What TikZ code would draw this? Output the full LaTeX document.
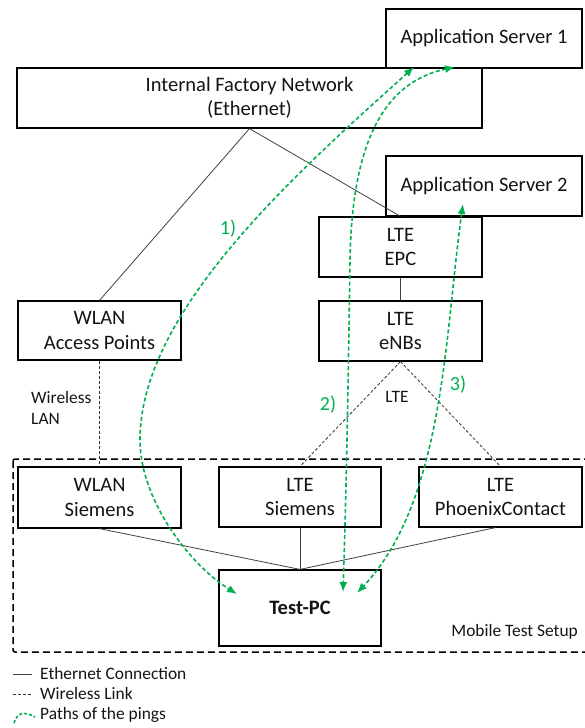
\documentclass[tikz,border=0pt]{standalone}
\usepackage{fontspec}
\setmainfont{Carlito}
\usetikzlibrary{arrows.meta,calc}
\definecolor{pinggreen}{RGB}{0,176,80}
\definecolor{txt}{RGB}{20,20,20}
\begin{document}
\begin{tikzpicture}[x=1pt,y=-1pt,
  box/.style={draw=black,line width=1.2pt,fill=white,inner sep=0pt,align=center,text=txt,
    font=\fontsize{20.5}{24.5}\selectfont},
  conn/.style={draw=black!75,line width=0.8pt},
  wless/.style={draw=black!80,line width=0.8pt,dash pattern=on 3pt off 2pt},
  ping/.style={draw=pinggreen,line width=1.6pt,dash pattern=on 4pt off 2.5pt,
    {Latex[length=10pt,width=8pt]}-{Latex[length=10pt,width=8pt]}},
  small/.style={text=txt,font=\fontsize{17.4}{21}\selectfont,inner sep=0pt},
  plabel/.style={text=pinggreen,font=\fontsize{20}{22}\selectfont,inner sep=0pt}]
\useasboundingbox (0,0) rectangle (584,728);

% mobile test setup frame
\draw[line width=1.5pt,dash pattern=on 7pt off 4pt,rounded corners=2pt] (13,459) rectangle (590,652);
\node[small,anchor=east] (mts) at (578,632) {Mobile Test Setup};

% boxes
\node[box,minimum width=196pt,minimum height=59pt] (as1) at (484,38.5) {Application Server 1};
\node[box,minimum width=465pt,minimum height=60pt] (ifn) at (249.5,98) {Internal Factory Network\\(Ethernet)};
\node[box,minimum width=196pt,minimum height=60pt] (as2) at (484,186) {Application Server 2};
\node[box,minimum width=163pt,minimum height=60pt] (epc) at (400.5,247) {LTE\\EPC};
\node[box,minimum width=163pt,minimum height=60pt] (enb) at (400.5,331) {LTE\\eNBs};
\node[box,minimum width=163pt,minimum height=59pt] (wap) at (99.5,330.5) {WLAN\\Access Points};
\node[box,minimum width=163pt,minimum height=61pt] (wsi) at (99.5,497.5) {WLAN\\Siemens};
\node[box,minimum width=162pt,minimum height=60pt] (lsi) at (300,497) {LTE\\Siemens};
\node[box,minimum width=163pt,minimum height=60pt] (lpc) at (500.5,497) {LTE\\PhoenixContact};
\node[box,minimum width=162pt,minimum height=76pt,font=\fontsize{20.5}{24.5}\selectfont\bfseries] (tpc) at (300,608) {Test-PC};

% ethernet connections
\draw[conn] (ifn.south) -- (wap.north);
\draw[conn] (ifn.south) -- (epc.north);
\draw[conn] (epc.south) -- (enb.north);
\draw[conn] (wsi.south) -- (tpc.north);
\draw[conn] (lsi.south) -- (tpc.north);
\draw[conn] ($(lpc.south)+(-5,0)$) -- (tpc.north);

% wireless links
\draw[wless] (wap.south) -- (wsi.north);
\draw[wless] (enb.south) -- (lsi.north);
\draw[wless] (enb.south) -- (lpc.north);

% labels
\node[small,anchor=north west,align=left] (wl) at (31,391) {Wireless\\LAN};
\node[small] (ltel) at (397,397) {LTE};
\node[plabel] (l1) at (228,229) {1)};
\node[plabel] (l2) at (328,405) {2)};
\node[plabel] (l3) at (458,385) {3)};

% ping paths
\coordinate (p1a) at (414,67);
\coordinate (p1b) at (237,594);
\coordinate (p2a) at (455,67);
\coordinate (p2b) at (343,592);
\coordinate (p3a) at (463,204);
\coordinate (p3b) at (357,593);
\draw[ping] (p1a) .. controls (300,170) and (140,310) .. (140,440) .. controls (140,500) and (190,565) .. (p1b);
\draw[ping] (p2a) .. controls (385,82) and (352,140) .. (350,260) .. controls (348,400) and (346,500) .. (p2b);
\draw[ping] (p3a) .. controls (445,330) and (445,500) .. (p3b);

% legend
\coordinate (e1) at (13,674); \coordinate (e2) at (32,674);
\coordinate (w1) at (13,694); \coordinate (w2) at (32,694);
\coordinate (g1) at (14,723); \coordinate (g2) at (35,717);
\draw[conn,line width=1pt] (e1) -- (e2);
\draw[wless] (w1) -- (w2);
\draw[draw=pinggreen,line width=1.6pt,dash pattern=on 3pt off 2pt] (g1) .. controls (17,714) and (22,710) .. (g2);
\node[small,anchor=west] (le1) at (40,674) {Ethernet Connection};
\node[small,anchor=west] (le2) at (40,694) {Wireless Link};
\node[small,anchor=west] (le3) at (40,715) {Paths of the pings};
\end{tikzpicture}
\end{document}
